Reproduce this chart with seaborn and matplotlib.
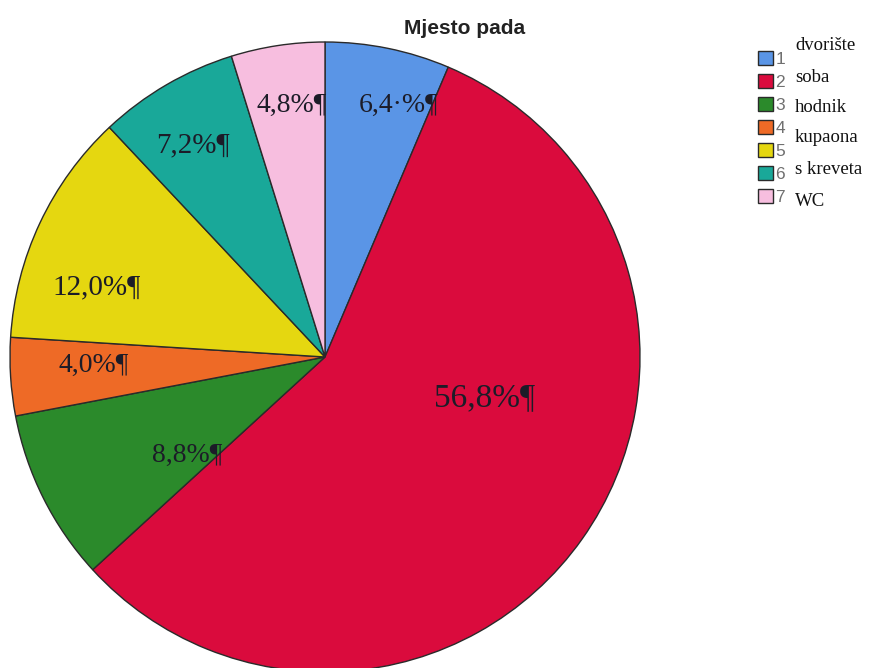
import matplotlib
matplotlib.use("Agg")
import matplotlib.pyplot as plt
import seaborn as sns

sns.set_style("white")

categories = ["dvorište", "soba", "hodnik", "kupaona", "s kreveta", "WC"]
codes = ["1", "2", "3", "4", "5", "6", "7"]
values = [6.4, 56.8, 8.8, 4.0, 12.0, 7.2, 4.8]
value_labels = ["6,4·%¶", "56,8%¶", "8,8%¶", "4,0%¶", "12,0%¶", "7,2%¶", "4,8%¶"]
colors = ["#5A95E6", "#DA0B3D", "#2B8A2B", "#EE6A26", "#E5D710", "#19A899", "#F7BEDF"]

W, H = 870, 668
cx, cy, r = 325, 357, 315

# label centres in pixels (layout only)
label_px = [(399, 105), (485, 398), (187, 455), (94, 365), (97, 287), (193, 145), (292, 105)]
label_size = [20, 24, 20, 20, 21, 21, 20]

fig = plt.figure(figsize=(W / 100, H / 100), dpi=100)
fig.patch.set_facecolor("white")

ax = fig.add_axes([(cx - r) / W, (H - cy - r) / H, 2 * r / W, 2 * r / H])
wedges, _ = ax.pie(values, colors=colors, startangle=90, counterclock=False,
                   radius=1.0, wedgeprops=dict(edgecolor="#2a2a2a", linewidth=1.0))
ax.set_xlim(-1, 1)
ax.set_ylim(-1, 1)
ax.axis("off")

for (px, py), t, s in zip(label_px, value_labels, label_size):
    ax.text((px - cx) / r, (cy - py) / r, t, ha="center", va="center", fontsize=s,
            family="Liberation Serif", color="#1c1c28")

fig.text(465 / W, 1 - 28 / H, "Mjesto pada", ha="center", va="center",
         fontsize=15, fontweight="bold", family="Liberation Sans", color="#222222")

leg = fig.legend(wedges, codes, loc="upper left",
                 bbox_to_anchor=(751 / W, 1 - 44 / H), borderaxespad=0,
                 frameon=False, handlelength=0.85, handleheight=0.85,
                 handletextpad=0.15, labelspacing=0.41,
                 prop={"family": "Liberation Sans", "size": 12.5})
for t in leg.get_texts():
    t.set_color("#707070")

legend_text_y = [45, 78, 108, 138, 170, 202]
for name, y in zip(categories, legend_text_y):
    fig.text(795 / W, 1 - y / H, name, ha="left", va="center",
             fontsize=13.5, family="Liberation Serif", color="#111111")

fig.savefig("out.png", dpi=100)
